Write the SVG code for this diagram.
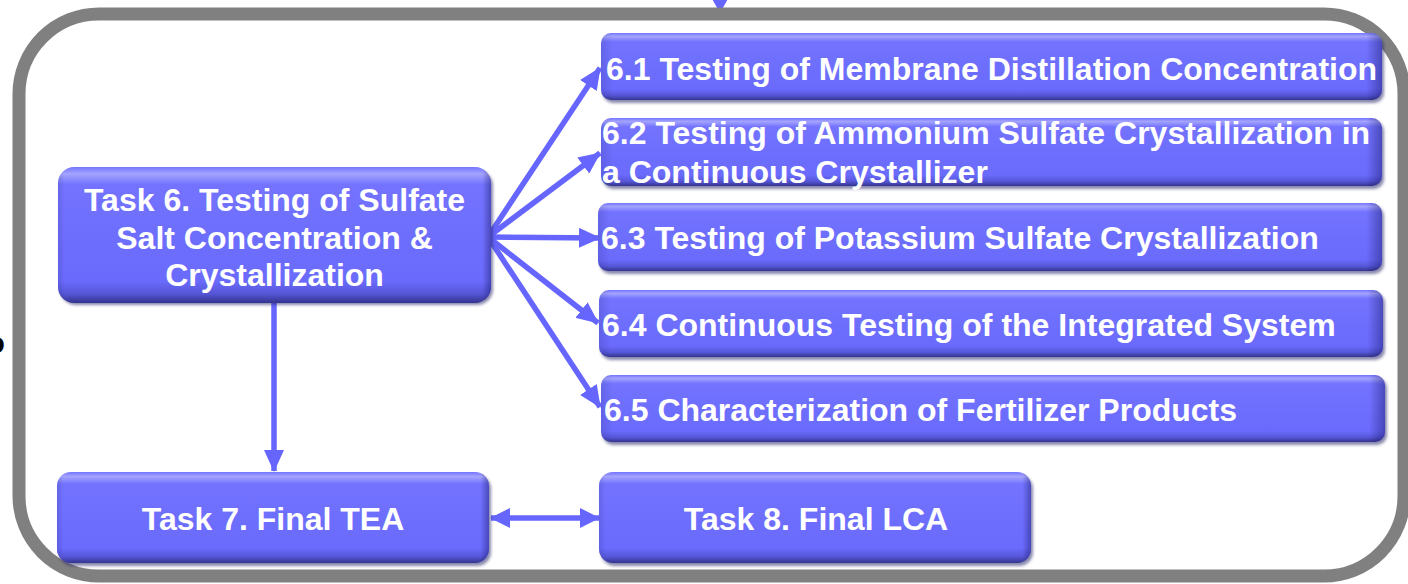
<svg xmlns="http://www.w3.org/2000/svg" width="1408" height="584" viewBox="0 0 1408 584">
<style>
.box{fill:url(#gv);}
.edge{fill:url(#gh);}
.shd{fill:#25256a;opacity:0.55;filter:url(#blur);}
.t{font-family:"Liberation Sans",Arial,sans-serif;font-weight:bold;font-size:32px;fill:#ffffff;}
.c{text-anchor:middle;}
.ln{stroke:#6666ff;stroke-width:5.5;fill:none;}
</style>
<defs>
<linearGradient id="gv" x1="0" y1="0" x2="0" y2="1">
<stop offset="0" stop-color="#7474ff"/>
<stop offset="0.05" stop-color="#a4a4ff"/>
<stop offset="0.13" stop-color="#7373ff"/>
<stop offset="0.84" stop-color="#6a6afc"/>
<stop offset="0.93" stop-color="#5656d8"/>
<stop offset="1" stop-color="#34348e"/>
</linearGradient>
<linearGradient id="gh" x1="0" y1="0" x2="1" y2="0">
<stop offset="0" stop-color="#000040" stop-opacity="0.12"/>
<stop offset="0.015" stop-color="#000040" stop-opacity="0"/>
<stop offset="0.98" stop-color="#000040" stop-opacity="0"/>
<stop offset="1" stop-color="#000040" stop-opacity="0.35"/>
</linearGradient>
<filter id="blur" x="-5%" y="-10%" width="110%" height="120%"><feGaussianBlur stdDeviation="1.5"/></filter>
<marker id="ah" viewBox="0 0 22 20" refX="21" refY="10" markerWidth="22" markerHeight="20" markerUnits="userSpaceOnUse" orient="auto">
<path d="M0,0 L22,10 L0,20 Z" fill="#6666ff"/>
</marker>
<marker id="ah2" viewBox="0 0 20 20" refX="19" refY="10" markerWidth="20" markerHeight="20" markerUnits="userSpaceOnUse" orient="auto-start-reverse">
<path d="M0,0 L20,10 L0,20 Z" fill="#6666ff"/>
</marker>
</defs>

<polygon points="711,-3 729,-3 720,13" fill="#6666ff"/>
<text x="-13.5" y="353" style="font-family:'Liberation Sans',Arial,sans-serif;font-weight:bold;font-size:30px;fill:#000">o</text>

<g id="frame">
<rect x="19" y="14" width="1385" height="562" rx="80" ry="80" fill="none" stroke="#808080" stroke-width="13"/>
</g>

<g id="connectors">
<line class="ln" x1="488" y1="237" x2="600" y2="68" marker-end="url(#ah)"/>
<line class="ln" x1="488" y1="237" x2="600" y2="153" marker-end="url(#ah)"/>
<line class="ln" x1="488" y1="237" x2="600" y2="238" marker-end="url(#ah)"/>
<line class="ln" x1="488" y1="237" x2="598" y2="323" marker-end="url(#ah)"/>
<line class="ln" x1="488" y1="237" x2="600" y2="407" marker-end="url(#ah)"/>
<line class="ln" x1="274" y1="303" x2="274" y2="471" marker-end="url(#ah)"/>
<line class="ln" x1="491" y1="518" x2="599" y2="518" stroke-width="6" marker-start="url(#ah2)" marker-end="url(#ah2)"/>
</g>

<g id="task6">
<rect class="shd" x="60" y="170" width="433" height="135" rx="16"/>
<rect class="box" x="58" y="167" width="433" height="136" rx="16"/>
<rect class="edge" x="58" y="167" width="433" height="136" rx="16"/>
<text class="t c" x="274.5" y="211">Task 6. Testing of Sulfate</text>
<text class="t c" x="274.5" y="249">Salt Concentration &amp;</text>
<text class="t c" x="274.5" y="286">Crystallization</text>
</g>

<g id="n61">
<rect class="shd" x="603" y="36" width="781" height="67" rx="10"/>
<rect class="box" x="601" y="33" width="781" height="67" rx="10"/>
<rect class="edge" x="601" y="33" width="781" height="67" rx="10"/>
<text class="t" x="606" y="80">6.1 Testing of Membrane Distillation Concentration</text>
</g>

<g id="n62">
<rect class="shd" x="603" y="121" width="781" height="68" rx="10"/>
<rect class="box" x="601" y="118" width="781" height="68" rx="10"/>
<rect class="edge" x="601" y="118" width="781" height="68" rx="10"/>
<text class="t" x="602" y="144">6.2 Testing of Ammonium Sulfate Crystallization in</text>
<text class="t" x="602" y="183">a Continuous Crystallizer</text>
</g>

<g id="n63">
<rect class="shd" x="600" y="206" width="784" height="68" rx="10"/>
<rect class="box" x="598" y="203" width="784" height="68" rx="10"/>
<rect class="edge" x="598" y="203" width="784" height="68" rx="10"/>
<text class="t" x="601" y="249">6.3 Testing of Potassium Sulfate Crystallization</text>
</g>

<g id="n64">
<rect class="shd" x="601" y="293" width="784" height="67" rx="10"/>
<rect class="box" x="599" y="290" width="784" height="67" rx="10"/>
<rect class="edge" x="599" y="290" width="784" height="67" rx="10"/>
<text class="t" x="602" y="336">6.4 Continuous Testing of the Integrated System</text>
</g>

<g id="n65">
<rect class="shd" x="603" y="378" width="784" height="67" rx="10"/>
<rect class="box" x="601" y="375" width="784" height="67" rx="10"/>
<rect class="edge" x="601" y="375" width="784" height="67" rx="10"/>
<text class="t" x="604" y="421">6.5 Characterization of Fertilizer Products</text>
</g>

<g id="task7">
<rect class="shd" x="59" y="475" width="432" height="91" rx="14"/>
<rect class="box" x="57" y="472" width="432" height="91" rx="14"/>
<rect class="edge" x="57" y="472" width="432" height="91" rx="14"/>
<text class="t c" x="273" y="530">Task 7. Final TEA</text>
</g>

<g id="task8">
<rect class="shd" x="601" y="475" width="432" height="91" rx="14"/>
<rect class="box" x="599" y="472" width="432" height="91" rx="14"/>
<rect class="edge" x="599" y="472" width="432" height="91" rx="14"/>
<text class="t c" x="816" y="530">Task 8. Final LCA</text>
</g>
</svg>
